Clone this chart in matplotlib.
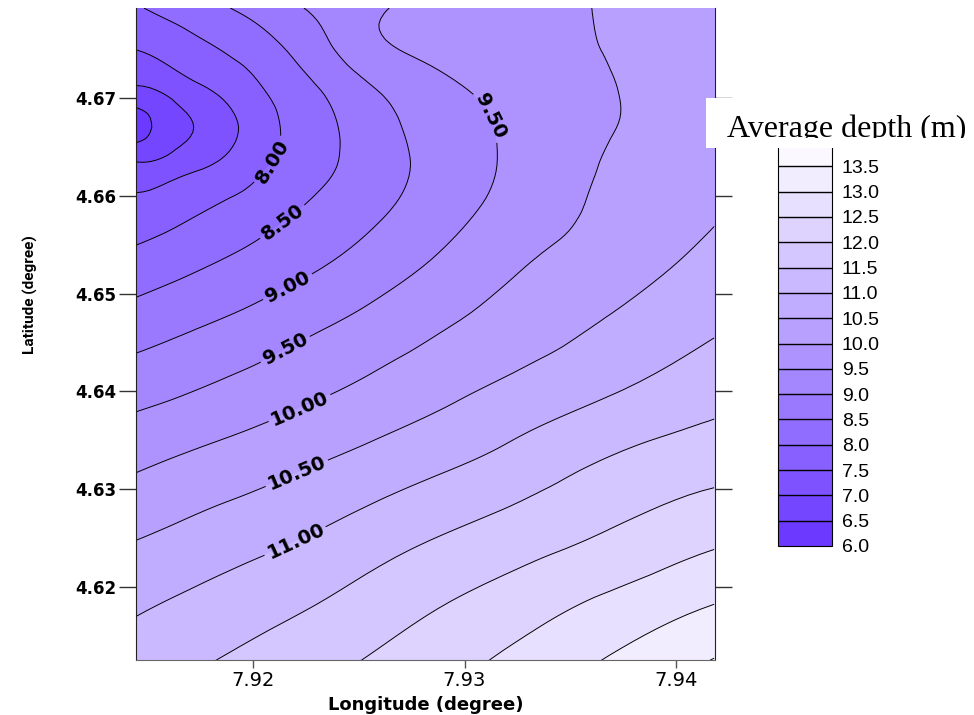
import numpy as np
import matplotlib
matplotlib.use("Agg")
import matplotlib.pyplot as plt
import matplotlib.tri as mtri
from matplotlib.colors import LinearSegmentedColormap, Normalize
from matplotlib.patches import Rectangle
from matplotlib.transforms import Bbox, TransformedBbox

# grid (longitude columns, latitude rows from north to south)
lon = [7.9145, 7.9170, 7.9199, 7.9227, 7.9255, 7.9288, 7.9326, 7.9369, 7.9418]
lat = [4.6792, 4.6749, 4.6708, 4.6670, 4.6631, 4.6586, 4.6534,
       4.6473, 4.6401, 4.6330, 4.6248, 4.6177, 4.6125]
depth = [
    [7.96, 8.26, 8.63, 9.04, 9.42, 9.64, 9.84, 10.04, 10.20],
    [7.50, 7.81, 8.20, 8.73, 9.34, 9.62, 9.81, 10.02, 10.20],
    [6.90, 7.33, 7.86, 8.41, 8.94, 9.36, 9.68, 9.98, 10.20],
    [6.30, 6.96, 7.66, 8.26, 8.77, 9.22, 9.61, 9.98, 10.25],
    [7.09, 7.37, 7.83, 8.31, 8.73, 9.18, 9.61, 10.05, 10.35],
    [7.65, 7.91, 8.22, 8.56, 8.88, 9.28, 9.71, 10.11, 10.45],
    [8.15, 8.37, 8.63, 8.89, 9.18, 9.55, 9.95, 10.25, 10.64],
    [8.71, 8.90, 9.12, 9.37, 9.62, 9.92, 10.21, 10.53, 10.91],
    [9.32, 9.48, 9.69, 9.90, 10.11, 10.36, 10.65, 10.96, 11.31],
    [9.90, 10.07, 10.25, 10.44, 10.64, 10.88, 11.18, 11.53, 11.79],
    [10.50, 10.66, 10.85, 11.04, 11.27, 11.53, 11.79, 12.08, 12.42],
    [10.96, 11.13, 11.32, 11.51, 11.74, 12.01, 12.30, 12.66, 13.05],
    [11.25, 11.42, 11.61, 11.82, 12.03, 12.30, 12.63, 13.04, 13.52],
]
levels = np.arange(6.0, 14.01, 0.5)
label_levels = [8.0, 8.5, 9.0, 9.5, 10.0, 10.5, 11.0]
label_spots = [(7.9208, 4.6637), (7.9214, 4.6573), (7.9217, 4.6504), (7.9216, 4.6440),
               (7.9222, 4.6383), (7.9220, 4.6320), (7.9218, 4.6258), (7.9311, 4.6680)]
xticks = [7.92, 7.93, 7.94]
yticks = [4.62, 4.63, 4.64, 4.65, 4.66, 4.67]

cmap = LinearSegmentedColormap.from_list("depth", ["#6633ff", "#ffffff"])
norm = Normalize(vmin=6.0, vmax=14.0)

fig = plt.figure(figsize=(9.74, 7.15), dpi=100)
ax = fig.add_axes([136 / 974, 1 - 660 / 715, 579 / 974, 652 / 715])

# smooth the grid with matplotlib's cubic triangle refiner
X, Y = np.meshgrid(lon, lat)
Z = np.array(depth)
tri = mtri.Triangulation(X.ravel(), Y.ravel())
refiner = mtri.UniformTriRefiner(tri)
tri_f, z_f = refiner.refine_field(Z.ravel(), subdiv=3)

cf = ax.tricontourf(tri_f, z_f, levels=levels, cmap=cmap, norm=norm)
plain_levels = [v for v in levels if v not in label_levels]
ax.tricontour(tri_f, z_f, levels=plain_levels, colors="black", linewidths=0.7)
cs = ax.tricontour(tri_f, z_f, levels=label_levels, colors="black", linewidths=0.7)
lbl = ax.clabel(cs, fmt="%.2f", fontsize=14, inline=True,
                inline_spacing=6, manual=label_spots)
for t in lbl:
    t.set_color("black")
    t.set_fontweight("bold")

ax.set_xlim(7.91447, 7.94184)
ax.set_ylim(4.61254, 4.6792)
ax.set_xticks(xticks)
ax.set_xticklabels([f"{v:.2f}" for v in xticks], fontsize=14, family="DejaVu Sans")
ax.set_yticks(yticks)
ax.set_yticklabels([f"{v:.2f}" for v in yticks], fontsize=12, fontweight="bold",
                   family="DejaVu Sans")
ax.tick_params(axis="y", length=12, width=1, color="#333333", pad=2,
               right=True, labelright=False)
ax.tick_params(axis="x", length=6, width=1, color="#555555", pad=2)
ax.spines["top"].set_visible(False)
ax.spines["bottom"].set_color("#666666")
ax.spines["left"].set_color("#222222")
ax.spines["right"].set_color("#222222")

ax.set_xlabel("Longitude (degree)", fontsize=13, fontweight="bold", va="center")
ax.xaxis.set_label_coords(0.5, -0.069)
ax.set_ylabel("Latitude (degree)", fontsize=11, fontweight="bold",
              family="Roboto", va="center")
ax.yaxis.set_label_coords(-0.183, 0.561)

# colour bar
cax = fig.add_axes([778 / 974, 1 - 546 / 715, 54 / 974, 405 / 715])
cb = fig.colorbar(cf, cax=cax, ticks=levels[:-1], drawedges=True)
cb.ax.set_yticklabels([f"{v:.1f}" for v in levels[:-1]], fontsize=14,
                      family="Liberation Sans")
cb.ax.tick_params(length=0, pad=7)
cb.outline.set_linewidth(0.8)
cb.dividers.set_linewidth(1.0)

# white box with the colour bar title
box = Rectangle((706 / 974, 1 - 148 / 715), 268 / 974, 50 / 715,
                transform=fig.transFigure, facecolor="white", edgecolor="none",
                zorder=5)
fig.patches.append(box)
title = fig.text(727 / 974, 1 - 137 / 715, "Average depth (m)", fontsize=23,
                 family="Liberation Serif", va="baseline", ha="left", zorder=6)
clip = TransformedBbox(Bbox([[706 / 974, 1 - 138 / 715], [1.0, 1 - 98 / 715]]),
                       fig.transFigure)
title.set_clip_box(clip)
title.set_clip_on(True)

fig.savefig("out.png", dpi=100)
